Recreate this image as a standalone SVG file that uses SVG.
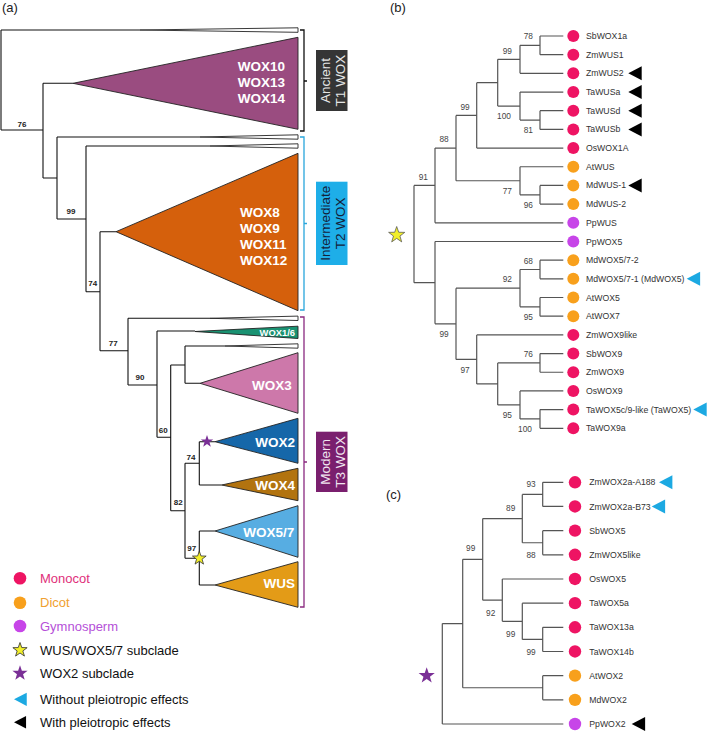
<svg xmlns="http://www.w3.org/2000/svg" xmlns:xlink="http://www.w3.org/1999/xlink" width="709" height="732" viewBox="0 0 709 732">
<style>
text{font-family:"Liberation Sans",Arial,Helvetica,sans-serif}
.ttl{font-size:13px;fill:#222}
.ta{stroke:#111;stroke-width:1.1;fill:none}
.tb{stroke:#555;stroke-width:1.2;fill:none}
.cl{stroke:#222;stroke-width:0.9}
.sl{fill:#fff;stroke:#222;stroke-width:0.9}
.big{font-size:13.5px;font-weight:bold;fill:#fff}
.bsa{font-size:8px;font-weight:bold;fill:#222;text-anchor:middle}
.bs{font-size:8.3px;fill:#444;text-anchor:middle}
.lf{font-size:8.7px;fill:#333}
.mono{fill:#ee1463}
.dicot{fill:#f8a01c}
.gym{fill:#c745e8}
.cy{fill:#1ca9e2}
.bk{fill:#000}
.lg{font-size:13px}
.box{font-size:13.5px;text-anchor:middle}
</style>
<defs>
<path id="star" d="M0,-10 L2.351,-3.236 L9.511,-3.090 L3.804,1.236 L5.878,8.090 L0,4 L-5.878,8.090 L-3.804,1.236 L-9.511,-3.090 L-2.351,-3.236 Z"/>
<path id="tri" d="M0,0 L13.4,-7 L13.4,7 Z"/>
</defs>
<rect width="709" height="732" fill="#fff"/>

<!-- Panel titles -->
<text class="ttl" x="2" y="12">(a)</text>
<text class="ttl" x="390" y="12">(b)</text>
<text class="ttl" x="386" y="499">(c)</text>

<!-- ===== Panel (a) connectors ===== -->
<g id="connectors-a">
<path class="ta" d="M1,30 V130 M1,30 H140 M1,130 H43
M43,83.3 V178 M43,83.3 H73 M43,178 H57
M57,137 V219 M57,137 H200 M57,219 H86
M86,146 V291.7 M86,146 H210 M86,291.7 H100
M100,231.7 V350.7 M100,231.7 H116 M100,350.7 H128
M128,318.3 V385 M128,318.3 H210 M128,385 H157
M157,331 V437.3 M157,331 H195 M157,437.3 H170.7
M170.7,365 V510.7 M170.7,365 H185 M170.7,510.7 H185
M185,346 V383.3 M185,346 H225 M185,383.3 H200
M185,463.3 V558.3 M185,463.3 H199.3 M185,558.3 H199.3
M199.3,441.7 V485 M199.3,441.7 H215 M199.3,485 H221.7
M199.3,531 V585 M199.3,531 H215 M199.3,585 H215"/>
</g>

<!-- collapsed clades (a) -->
<g id="sliver1"><polygon class="sl" points="140,30 298,27.8 298,32.3"/></g>
<g id="sliver2"><polygon class="sl" points="200,137 298,134.8 298,139.2"/></g>
<g id="sliver3"><polygon class="sl" points="210,146 298,143.8 298,148.2"/></g>
<g id="sliver4"><polygon class="sl" points="210,318.3 298,316.1 298,320.5"/></g>
<g id="sliver5"><polygon class="sl" points="225,346 298,343.8 298,348.2"/></g>

<g id="clade-wox10">
<polygon class="cl" fill="#9a4c80" points="73,83.3 298,37.3 298,129.3"/>
<text class="big" x="285" y="71" text-anchor="end">WOX10</text>
<text class="big" x="285" y="87.3" text-anchor="end">WOX13</text>
<text class="big" x="285" y="103.3" text-anchor="end">WOX14</text>
</g>
<g id="clade-wox8">
<polygon class="cl" fill="#d5600c" points="116,231.7 298,153.3 298,310.7"/>
<text class="big" x="240" y="217">WOX8</text>
<text class="big" x="240" y="233">WOX9</text>
<text class="big" x="240" y="249.3">WOX11</text>
<text class="big" x="240" y="265">WOX12</text>
</g>
<g id="clade-wox16">
<polygon class="cl" fill="#1a9272" points="195,331.5 298,326.2 298,338.5"/>
<text x="295" y="336" text-anchor="end" style="font-size:9.4px;font-weight:bold;fill:#fff">WOX1/6</text>
</g>
<g id="clade-wox3">
<polygon class="cl" fill="#cd78aa" points="200,383.3 298,352.7 298,413.3"/>
<text class="big" x="291.7" y="390" text-anchor="end">WOX3</text>
</g>
<g id="clade-wox2">
<polygon class="cl" fill="#1667a9" points="215,441.7 298,418.3 298,463.3"/>
<text class="big" x="295" y="447.3" text-anchor="end">WOX2</text>
</g>
<g id="clade-wox4">
<polygon class="cl" fill="#b2730f" points="221.7,485 298,468.3 298,500.7"/>
<text class="big" x="295" y="490" text-anchor="end">WOX4</text>
</g>
<g id="clade-wox57">
<polygon class="cl" fill="#57ade2" points="215,531 298,505.7 298,557.3"/>
<text class="big" x="294.3" y="537.3" text-anchor="end">WOX5/7</text>
</g>
<g id="clade-wus">
<polygon class="cl" fill="#e39b17" points="215,585 298,561.7 298,607.3"/>
<text class="big" x="295" y="588.3" text-anchor="end">WUS</text>
</g>

<!-- bootstrap (a) -->
<g id="boot-a">
<text class="bsa" x="22" y="127">76</text>
<text class="bsa" x="71" y="213.7">99</text>
<text class="bsa" x="92.7" y="286.3">74</text>
<text class="bsa" x="113.3" y="346.3">77</text>
<text class="bsa" x="140" y="379.7">90</text>
<text class="bsa" x="163.3" y="433">60</text>
<text class="bsa" x="191" y="459.7">74</text>
<text class="bsa" x="178.3" y="505.3">82</text>
<text class="bsa" x="191.7" y="550.7">97</text>
</g>
<g id="star-wox2-a"><use href="#star" transform="translate(207,441.5) scale(0.65)" fill="#7a2f96"/></g>
<g id="star-wus-a"><use href="#star" transform="translate(199.3,558.3) scale(0.72)" fill="#f2ef2a" stroke="#333" stroke-width="1.1"/></g>

<!-- brackets -->
<g id="bracket-t1"><path d="M300,30 H304 V131 H300 M304,81 H307" fill="none" stroke="#111" stroke-width="1.3"/></g>
<g id="bracket-t2"><path d="M300,137 H304 V310 H300 M304,223.5 H307" fill="none" stroke="#29a6dc" stroke-width="1.3"/></g>
<g id="bracket-t3"><path d="M300,317 H304 V607 H300 M304,462 H307" fill="none" stroke="#8a2a80" stroke-width="1.3"/></g>

<g id="label-t1">
<rect x="316" y="50" width="31.5" height="61" fill="#353535"/>
<g transform="translate(331.8,80.5) rotate(-90)"><text class="box" x="0" y="-1.5" fill="#e6e6e6">Ancient</text><text class="box" x="0" y="13" fill="#e6e6e6">T1 WOX</text></g>
</g>
<g id="label-t2">
<rect x="316" y="181.7" width="31.5" height="83.3" fill="#1eaee8"/>
<g transform="translate(331.8,223.3) rotate(-90)"><text class="box" x="0" y="-1.5" fill="#14213a">Intermediate</text><text class="box" x="0" y="13" fill="#14213a">T2 WOX</text></g>
</g>
<g id="label-t3">
<rect x="316" y="431.7" width="31.5" height="60.3" fill="#7a1f6e"/>
<g transform="translate(331.8,461.8) rotate(-90)"><text class="box" x="0" y="-1.5" fill="#f0e6f0">Modern</text><text class="box" x="0" y="13" fill="#f0e6f0">T3 WOX</text></g>
</g>

<!-- legend -->
<g id="legend">
<circle cx="20" cy="578.3" r="6.3" class="mono"/><text class="lg" x="40" y="583" fill="#e0307a">Monocot</text>
<circle cx="20" cy="602.7" r="6.3" class="dicot"/><text class="lg" x="40" y="607.4" fill="#f0a030">Dicot</text>
<circle cx="20" cy="626" r="6.3" class="gym"/><text class="lg" x="40" y="630.7" fill="#b550d8">Gymnosperm</text>
<use href="#star" transform="translate(20,650) scale(0.75)" fill="#f2ef2a" stroke="#333" stroke-width="1.1"/><text class="lg" x="40" y="654.7" fill="#111">WUS/WOX5/7 subclade</text>
<use href="#star" transform="translate(20,673.3) scale(0.8)" fill="#7a2f96"/><text class="lg" x="40" y="678" fill="#111">WOX2 subclade</text>
<use href="#tri" transform="translate(14,699.3) scale(0.95)" class="cy"/><text class="lg" x="40" y="704" fill="#111">Without pleiotropic effects</text>
<use href="#tri" transform="translate(14,722.3) scale(0.9)" class="bk"/><text class="lg" x="40" y="727" fill="#111">With pleiotropic effects</text>
</g>

<!-- ===== Panel (b) ===== -->
<g id="connectors-b">
<path class="tb" d="M414,185.44 V282.64 M414,185.44 H435 M414,282.64 H435
M435,148.08 V222.8 M435,148.08 H456 M435,222.8 H563.3
M456,115.39 V180.77 M456,115.39 H476.7 M456,180.77 H520
M476.7,82.7 V148.08 M476.7,82.7 H497.7 M476.7,148.08 H563.3
M497.7,59.35 V106.05 M497.7,59.35 H520 M497.7,106.05 H520
M520,45.34 V73.36 M520,45.34 H540 M520,73.36 H563.3
M540,36 V54.68 M540,36 H563.3 M540,54.68 H563.3
M520,92.04 V120.06 M520,92.04 H563.3 M520,120.06 H540
M540,110.72 V129.4 M540,110.72 H563.3 M540,129.4 H563.3
M520,166.76 V194.78 M520,166.76 H563.3 M520,194.78 H540
M540,185.44 V204.12 M540,185.44 H563.3 M540,204.12 H563.3
M435,241.48 V323.79 M435,241.48 H563.3 M435,323.79 H456
M456,288.18 V359.4 M456,288.18 H520 M456,359.4 H476.7
M520,269.5 V306.86 M520,269.5 H540 M520,306.86 H540
M540,260.16 V278.84 M540,260.16 H563.3 M540,278.84 H563.3
M540,297.52 V316.2 M540,297.52 H563.3 M540,316.2 H563.3
M476.7,334.88 V383.92 M476.7,334.88 H563.3 M476.7,383.92 H497.7
M497.7,362.9 V404.93 M497.7,362.9 H540 M497.7,404.93 H520
M540,353.56 V372.24 M540,353.56 H563.3 M540,372.24 H563.3
M520,390.92 V418.94 M520,390.92 H563.3 M520,418.94 H540
M540,409.6 V428.28 M540,409.6 H563.3 M540,428.28 H563.3"/>
</g>
<g id="boot-b">
<text class="bs" x="528.3" y="39.2">78</text>
<text class="bs" x="507.3" y="53.9">99</text>
<text class="bs" x="504" y="119.2">100</text>
<text class="bs" x="528.3" y="133.2">81</text>
<text class="bs" x="465" y="109.9">99</text>
<text class="bs" x="444" y="141.5">88</text>
<text class="bs" x="423.3" y="179.9">91</text>
<text class="bs" x="507.3" y="193.9">77</text>
<text class="bs" x="528.3" y="207.5">96</text>
<text class="bs" x="528.3" y="263.9">68</text>
<text class="bs" x="507.3" y="282.2">92</text>
<text class="bs" x="528.3" y="319.9">95</text>
<text class="bs" x="444" y="337.2">99</text>
<text class="bs" x="465" y="373.2">97</text>
<text class="bs" x="528.3" y="357.2">76</text>
<text class="bs" x="507.3" y="418.2">95</text>
<text class="bs" x="525" y="432.2">100</text>
</g>
<g id="star-b"><use href="#star" transform="translate(396.7,235) scale(0.85)" fill="#f2ef2a" stroke="#555" stroke-width="0.9"/></g>

<g id="b-SbWOX1a"><circle cx="573.3" cy="36" r="6" class="mono"/><text class="lf" x="586" y="39">SbWOX1a</text></g>
<g id="b-ZmWUS1"><circle cx="573.3" cy="54.68" r="6" class="mono"/><text class="lf" x="586" y="57.7">ZmWUS1</text></g>
<g id="b-ZmWUS2"><circle cx="573.3" cy="73.36" r="6" class="mono"/><text class="lf" x="586" y="76.4">ZmWUS2</text><use href="#tri" x="628.3" y="73.36" class="bk"/></g>
<g id="b-TaWUSa"><circle cx="573.3" cy="92.04" r="6" class="mono"/><text class="lf" x="586" y="95">TaWUSa</text><use href="#tri" x="628.3" y="92.04" class="bk"/></g>
<g id="b-TaWUSd"><circle cx="573.3" cy="110.72" r="6" class="mono"/><text class="lf" x="586" y="113.7">TaWUSd</text><use href="#tri" x="628.3" y="110.72" class="bk"/></g>
<g id="b-TaWUSb"><circle cx="573.3" cy="129.4" r="6" class="mono"/><text class="lf" x="586" y="132.4">TaWUSb</text><use href="#tri" x="628.3" y="129.4" class="bk"/></g>
<g id="b-OsWOX1A"><circle cx="573.3" cy="148.08" r="6" class="mono"/><text class="lf" x="586" y="151.1">OsWOX1A</text></g>
<g id="b-AtWUS"><circle cx="573.3" cy="166.76" r="6" class="dicot"/><text class="lf" x="586" y="169.8">AtWUS</text></g>
<g id="b-MdWUS-1"><circle cx="573.3" cy="185.44" r="6" class="dicot"/><text class="lf" x="586" y="188.4">MdWUS-1</text><use href="#tri" x="628.3" y="185.44" class="bk"/></g>
<g id="b-MdWUS-2"><circle cx="573.3" cy="204.12" r="6" class="dicot"/><text class="lf" x="586" y="207.1">MdWUS-2</text></g>
<g id="b-PpWUS"><circle cx="573.3" cy="222.8" r="6" class="gym"/><text class="lf" x="586" y="225.8">PpWUS</text></g>
<g id="b-PpWOX5"><circle cx="573.3" cy="241.48" r="6" class="gym"/><text class="lf" x="586" y="244.5">PpWOX5</text></g>
<g id="b-MdWOX57-2"><circle cx="573.3" cy="260.16" r="6" class="dicot"/><text class="lf" x="586" y="263.2">MdWOX5/7-2</text></g>
<g id="b-MdWOX57-1"><circle cx="573.3" cy="278.84" r="6" class="dicot"/><text class="lf" x="586" y="281.8">MdWOX5/7-1 (MdWOX5)</text><use href="#tri" x="686.7" y="278.84" class="cy"/></g>
<g id="b-AtWOX5"><circle cx="573.3" cy="297.52" r="6" class="dicot"/><text class="lf" x="586" y="300.5">AtWOX5</text></g>
<g id="b-AtWOX7"><circle cx="573.3" cy="316.2" r="6" class="dicot"/><text class="lf" x="586" y="319.2">AtWOX7</text></g>
<g id="b-ZmWOX9like"><circle cx="573.3" cy="334.88" r="6" class="mono"/><text class="lf" x="586" y="337.9">ZmWOX9like</text></g>
<g id="b-SbWOX9"><circle cx="573.3" cy="353.56" r="6" class="mono"/><text class="lf" x="586" y="356.6">SbWOX9</text></g>
<g id="b-ZmWOX9"><circle cx="573.3" cy="372.24" r="6" class="mono"/><text class="lf" x="586" y="375.2">ZmWOX9</text></g>
<g id="b-OsWOX9"><circle cx="573.3" cy="390.92" r="6" class="mono"/><text class="lf" x="586" y="393.9">OsWOX9</text></g>
<g id="b-TaWOX5c"><circle cx="573.3" cy="409.6" r="6" class="mono"/><text class="lf" x="586" y="412.6">TaWOX5c/9-like (TaWOX5)</text><use href="#tri" x="693.3" y="409.6" class="cy"/></g>
<g id="b-TaWOX9a"><circle cx="573.3" cy="428.28" r="6" class="mono"/><text class="lf" x="586" y="431.3">TaWOX9a</text></g>

<!-- ===== Panel (c) ===== -->
<g id="connectors-c">
<path class="tb" d="M442.3,623.55 V724 M442.3,623.55 H462.7 M442.3,724 H563.3
M462.7,559.35 V687.75 M462.7,559.35 H482.7 M462.7,687.75 H542.7
M482.7,518.56 V600.13 M482.7,518.56 H522.3 M482.7,600.13 H502.3
M522.3,494.39 V542.73 M522.3,494.39 H542.7 M522.3,542.73 H542.7
M542.7,482.3 V506.47 M542.7,482.3 H563.3 M542.7,506.47 H563.3
M542.7,530.64 V554.81 M542.7,530.64 H563.3 M542.7,554.81 H563.3
M502.3,578.98 V621.28 M502.3,578.98 H563.3 M502.3,621.28 H522.3
M522.3,603.15 V639.41 M522.3,603.15 H563.3 M522.3,639.41 H542.7
M542.7,627.32 V651.49 M542.7,627.32 H563.3 M542.7,651.49 H563.3
M542.7,675.66 V699.83 M542.7,675.66 H563.3 M542.7,699.83 H563.3"/>
</g>
<g id="boot-c">
<text class="bs" x="531" y="486.5">93</text>
<text class="bs" x="510.7" y="510.5">89</text>
<text class="bs" x="531" y="558.2">88</text>
<text class="bs" x="470.7" y="550.9">99</text>
<text class="bs" x="490.7" y="615.5">92</text>
<text class="bs" x="510.7" y="636.5">99</text>
<text class="bs" x="531" y="654.9">99</text>
</g>
<g id="star-c"><use href="#star" transform="translate(426.7,675.7) scale(0.85)" fill="#7a2f96"/></g>

<g id="c-ZmWOX2a-A188"><circle cx="575" cy="482.3" r="6.2" class="mono"/><text class="lf" x="589.3" y="485.3">ZmWOX2a-A188</text><use href="#tri" x="659" y="482.3" class="cy"/></g>
<g id="c-ZmWOX2a-B73"><circle cx="575" cy="506.47" r="6.2" class="mono"/><text class="lf" x="589.3" y="509.5">ZmWOX2a-B73</text><use href="#tri" x="651.7" y="506.47" class="cy"/></g>
<g id="c-SbWOX5"><circle cx="575" cy="530.64" r="6.2" class="mono"/><text class="lf" x="589.3" y="533.6">SbWOX5</text></g>
<g id="c-ZmWOX5like"><circle cx="575" cy="554.81" r="6.2" class="mono"/><text class="lf" x="589.3" y="557.8">ZmWOX5like</text></g>
<g id="c-OsWOX5"><circle cx="575" cy="578.98" r="6.2" class="mono"/><text class="lf" x="589.3" y="582">OsWOX5</text></g>
<g id="c-TaWOX5a"><circle cx="575" cy="603.15" r="6.2" class="mono"/><text class="lf" x="589.3" y="606.2">TaWOX5a</text></g>
<g id="c-TaWOX13a"><circle cx="575" cy="627.32" r="6.2" class="mono"/><text class="lf" x="589.3" y="630.3">TaWOX13a</text></g>
<g id="c-TaWOX14b"><circle cx="575" cy="651.49" r="6.2" class="mono"/><text class="lf" x="589.3" y="654.5">TaWOX14b</text></g>
<g id="c-AtWOX2"><circle cx="575" cy="675.66" r="6.2" class="dicot"/><text class="lf" x="589.3" y="678.7">AtWOX2</text></g>
<g id="c-MdWOX2"><circle cx="575" cy="699.83" r="6.2" class="dicot"/><text class="lf" x="589.3" y="702.8">MdWOX2</text></g>
<g id="c-PpWOX2"><circle cx="575" cy="724" r="6.2" class="gym"/><text class="lf" x="589.3" y="727">PpWOX2</text><use href="#tri" x="631.7" y="724" class="bk"/></g>
</svg>
